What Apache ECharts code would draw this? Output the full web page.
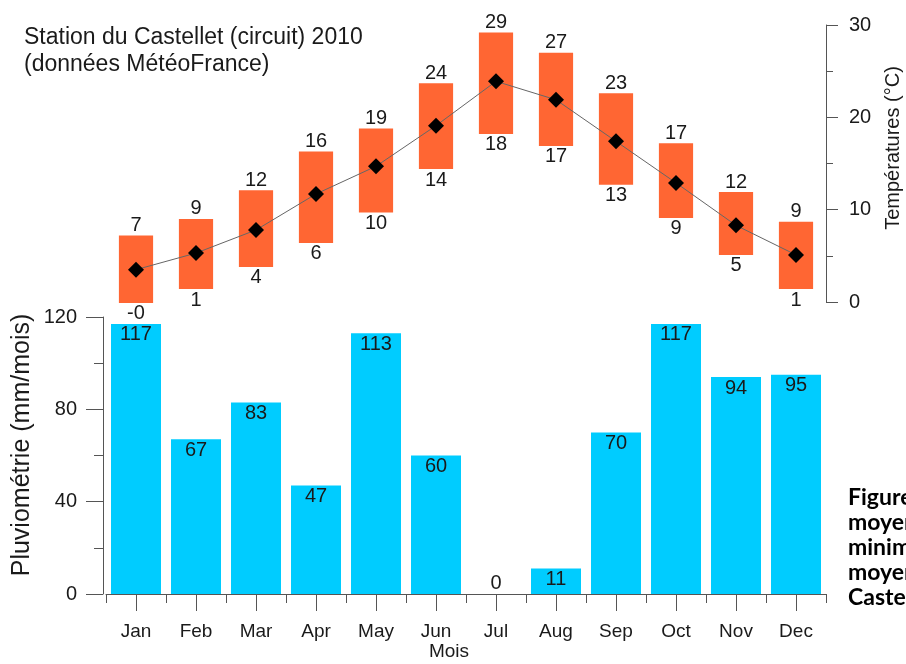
<!DOCTYPE html>
<html>
<head>
<meta charset="utf-8">
<script src="https://cdn.jsdelivr.net/npm/echarts@6/dist/echarts.min.js"></script>
<style>
  html, body { margin: 0; padding: 0; background: #fff; }
  #chart { width: 906px; height: 664px; }
</style>
</head>
<body>
<div id="chart"></div>
<script>
// months
const months = ['Jan', 'Feb', 'Mar', 'Apr', 'May', 'Jun', 'Jul', 'Aug', 'Sep', 'Oct', 'Nov', 'Dec']
// temperatures (°C)
const tMax = [7.2, 9.0, 12.1, 16.3, 18.8, 23.7, 29.2, 27.0, 22.6, 17.2, 11.9, 8.7]
const tMin = [-0.1, 1.4, 3.8, 6.4, 9.7, 14.4, 18.2, 16.9, 12.7, 9.1, 5.1, 1.4]
const tMean = [3.5, 5.3, 7.8, 11.7, 14.7, 19.1, 23.9, 21.9, 17.4, 12.9, 8.3, 5.1]
// pluviometrie (mm/mois)
const rain = [117, 67, 83, 47, 113, 60, 0, 11, 70, 117, 94, 95]

const FONT = '"Liberation Sans", Arial, sans-serif'
const AXIS = '#555'
const TXT = '#1a1a1a'

const chart = echarts.init(document.getElementById('chart'))

chart.setOption({
  animation: false,
  backgroundColor: '#fff',
  textStyle: { fontFamily: FONT },
  grid: [
    { left: 106, right: 80, top: 25, height: 277 }, // temperatures
    { left: 106, right: 80, top: 317, height: 277 } // pluie
  ],
  xAxis: [
    { gridIndex: 0, type: 'category', data: months, show: false },
    {
      gridIndex: 1,
      type: 'category',
      data: months,
      position: 'bottom',
      axisLine: { show: true, lineStyle: { color: AXIS, width: 1 } },
      axisTick: { show: true, alignWithLabel: true, length: 17, lineStyle: { color: AXIS } },
      axisLabel: { margin: 28, fontSize: 19, color: TXT, fontFamily: FONT }
    },
    {
      // petits ticks entre les mois
      gridIndex: 1,
      type: 'category',
      data: months,
      position: 'bottom',
      axisLine: { show: false },
      axisTick: { show: true, length: 9, lineStyle: { color: AXIS } },
      axisLabel: { show: false }
    }
  ],
  yAxis: [
    {
      gridIndex: 0,
      type: 'value',
      position: 'right',
      min: 0,
      max: 30,
      interval: 10,
      axisLine: { show: true, lineStyle: { color: AXIS } },
      axisTick: { show: true, length: 12, lineStyle: { color: AXIS } },
      minorTick: { show: true, splitNumber: 2, length: 7, lineStyle: { color: AXIS } },
      splitLine: { show: false },
      axisLabel: { margin: 23, fontSize: 20, color: TXT, fontFamily: FONT }
    },
    {
      gridIndex: 1,
      type: 'value',
      min: 0,
      max: 120,
      interval: 40,
      offset: 3,
      axisLine: { show: true, lineStyle: { color: AXIS } },
      axisTick: { show: true, length: 17, lineStyle: { color: AXIS } },
      minorTick: { show: true, splitNumber: 2, length: 9, lineStyle: { color: AXIS } },
      splitLine: { show: false },
      axisLabel: { margin: 26, fontSize: 20, color: TXT, fontFamily: FONT }
    }
  ],
  series: [
    {
      // barres min -> max
      type: 'custom',
      xAxisIndex: 0,
      yAxisIndex: 0,
      encode: { x: 0, y: [1, 2] },
      data: months.map((m, i) => [i, tMin[i], tMax[i]]),
      renderItem: function(params, api) {
        const lo = api.coord([api.value(0), api.value(1)])
        const hi = api.coord([api.value(0), api.value(2)])
        const w = api.size([1, 0])[0] * 0.57
        return {
          type: 'group',
          children: [
            {
              type: 'rect',
              shape: { x: lo[0] - w / 2, y: hi[1], width: w, height: lo[1] - hi[1] },
              style: { fill: '#FF6633' }
            },
            {
              type: 'text',
              style: {
                text: api.value(2).toFixed(0),
                x: hi[0], y: hi[1],
                align: 'center', verticalAlign: 'bottom',
                font: '20px ' + FONT, fill: TXT
              }
            },
            {
              type: 'text',
              style: {
                text: api.value(1).toFixed(0),
                x: lo[0], y: lo[1] + 1,
                align: 'center', verticalAlign: 'top',
                font: '20px ' + FONT, fill: TXT
              }
            }
          ]
        }
      },
      z: 2
    },
    {
      // moyenne
      type: 'line',
      xAxisIndex: 0,
      yAxisIndex: 0,
      data: tMean,
      symbol: 'diamond',
      symbolSize: 16,
      itemStyle: { color: '#000' },
      lineStyle: { color: '#666', width: 1 },
      z: 5
    },
    {
      type: 'bar',
      xAxisIndex: 1,
      yAxisIndex: 1,
      barWidth: 50,
      itemStyle: { color: '#00CCFF' },
      label: {
        show: true,
        position: 'insideTop',
        distance: 1,
        fontSize: 20,
        color: TXT,
        fontFamily: FONT
      },
      data: rain.map(v => v === 0 ? { value: v, label: { position: 'top', distance: 1 } } : v)
    }
  ],
  graphic: [
    {
      type: 'text', left: 24, top: 26,
      style: { text: 'Station du Castellet (circuit) 2010', font: '23px ' + FONT, fill: TXT }
    },
    {
      type: 'text', left: 24, top: 53,
      style: { text: '(données MétéoFrance)', font: '23px ' + FONT, fill: TXT }
    },
    {
      type: 'text', x: 22, y: 445, rotation: Math.PI / 2,
      style: { text: 'Pluviométrie (mm/mois)', font: '25px ' + FONT, fill: TXT, align: 'center', verticalAlign: 'middle' }
    },
    {
      type: 'text', x: 893, y: 148, rotation: Math.PI / 2,
      style: { text: 'Températures (°C)', font: '20px ' + FONT, fill: TXT, align: 'center', verticalAlign: 'middle' }
    },
    {
      type: 'text', x: 449, y: 652,
      style: { text: 'Mois', font: '19px ' + FONT, fill: TXT, align: 'center', verticalAlign: 'middle' }
    },
    {
      type: 'group', x: 848, y: 498,
      children: ['Figure 3 :', 'moyennes', 'minimales', 'moyennes', 'Castellet'].map((t, i) => ({
        type: 'text', x: 0, y: i * 25,
        style: { text: t, font: 'bold 23px Lato, "Open Sans", sans-serif', fill: '#000', verticalAlign: 'middle' }
      }))
    }
  ]
})
</script>
</body>
</html>
